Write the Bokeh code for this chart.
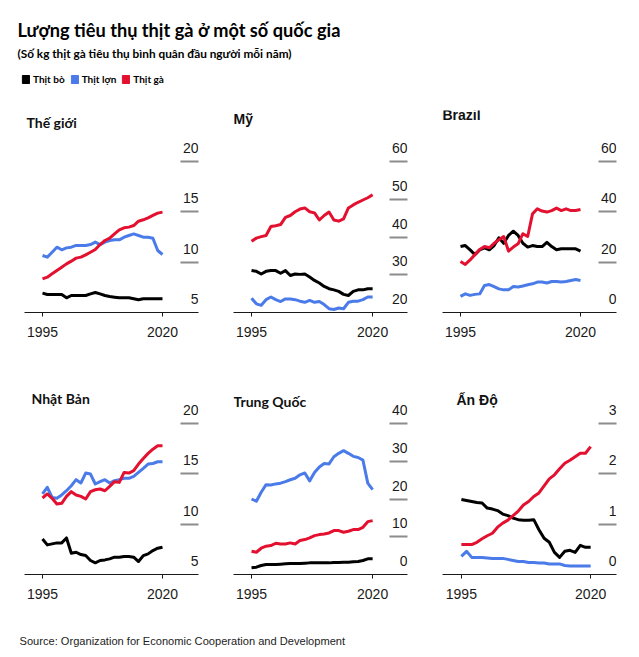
from bokeh.plotting import figure
from bokeh.layouts import column, row
from bokeh.models import Range1d, FixedTicker, Legend, LegendItem, ColumnDataSource
from bokeh.core.properties import value
from bokeh.embed import file_html
from bokeh.resources import INLINE

# ---------------- data ----------------
years = list(range(1995, 2021))
x_ticks = [1995, 2020]

title_text = "Lượng tiêu thụ thịt gà ở một số quốc gia"
subtitle_text = "(Số kg thịt gà tiêu thụ bình quân đầu người mỗi năm)"
source_text = "Source: Organization for Economic Cooperation and Development"
series_names = ["Thịt bò", "Thịt lợn", "Thịt gà"]

world_beef = [6.92, 6.79, 6.79, 6.79, 6.79, 6.46, 6.69, 6.69, 6.69, 6.69, 6.85, 6.99, 6.85,
              6.69, 6.59, 6.52, 6.46, 6.46, 6.46, 6.36, 6.26, 6.36, 6.36, 6.36, 6.36, 6.36]
world_pork = [10.66, 10.50, 10.99, 11.49, 11.23, 11.42, 11.49, 11.66, 11.66, 11.66, 11.75, 11.99, 11.75,
              11.99, 12.15, 12.22, 12.22, 12.48, 12.65, 12.81, 12.65, 12.48, 12.48, 12.38, 11.16, 10.76]
world_poultry = [8.34, 8.51, 8.84, 9.17, 9.50, 9.83, 10.10, 10.40, 10.50, 10.73, 10.99, 11.26, 11.75,
                 12.15, 12.38, 12.81, 13.21, 13.41, 13.48, 13.64, 14.07, 14.21, 14.40, 14.64, 14.87, 14.97]
world_ticks = [5, 10, 15, 20]

us_beef = [31.1, 30.9, 30.2, 30.9, 31.1, 31.1, 30.4, 31.1, 29.8, 30.2, 30.1, 30.2, 29.4,
           28.5, 27.8, 26.9, 26.3, 26.0, 25.6, 24.8, 24.5, 25.6, 26.0, 26.0, 26.3, 26.3]
us_pork = [23.8, 22.3, 21.9, 23.4, 24.1, 23.4, 22.9, 23.6, 23.6, 23.4, 23.0, 22.7, 23.2,
           22.7, 22.9, 22.1, 21.0, 20.8, 21.2, 21.0, 22.7, 23.0, 23.0, 23.4, 24.1, 24.1]
us_poultry = [38.9, 39.7, 40.1, 40.4, 42.8, 43.0, 43.3, 45.2, 45.7, 46.7, 47.4, 47.7, 46.7,
              46.4, 44.5, 45.7, 46.6, 44.5, 44.2, 44.8, 47.7, 48.5, 49.2, 49.8, 50.4, 51.2]
us_ticks = [20, 30, 40, 50, 60]

br_beef = [26.2, 26.6, 24.9, 23.0, 24.9, 25.7, 24.9, 26.6, 29.7, 27.5, 30.6, 32.3, 30.6,
           27.5, 26.0, 26.6, 26.2, 26.2, 27.9, 26.2, 24.9, 25.3, 25.3, 25.3, 25.3, 24.4]
br_pork = [6.4, 7.4, 6.8, 7.2, 7.4, 10.7, 11.1, 10.3, 9.4, 9.0, 9.0, 10.3, 10.1,
           10.5, 11.0, 11.4, 12.1, 12.1, 11.7, 12.3, 12.3, 12.1, 12.3, 12.7, 13.1, 12.7]
br_poultry = [20.3, 19.1, 20.9, 23.0, 25.0, 26.2, 25.7, 27.5, 28.9, 30.2, 24.4, 26.0, 27.3,
              31.3, 30.2, 39.2, 41.2, 40.3, 39.9, 40.5, 41.5, 40.5, 41.2, 40.5, 40.5, 40.9]
br_ticks = [0, 20, 40, 60]

jp_beef = [8.53, 7.94, 8.04, 8.14, 8.14, 8.63, 7.11, 7.21, 6.98, 6.88, 6.39, 6.16, 6.39,
           6.45, 6.55, 6.72, 6.72, 6.78, 6.78, 6.72, 6.29, 6.88, 7.05, 7.38, 7.61, 7.71]
jp_pork = [13.0, 13.66, 12.66, 12.57, 12.9, 13.32, 13.82, 14.42, 14.09, 15.08, 14.98, 13.99, 14.22,
           14.42, 14.09, 14.32, 14.42, 14.55, 14.55, 14.75, 15.14, 15.54, 15.97, 16.03, 16.2, 16.2]
jp_poultry = [12.60, 13.0, 12.57, 12.0, 12.07, 12.76, 13.23, 12.9, 12.76, 12.5, 13.23, 13.42, 13.49,
              13.32, 13.75, 14.22, 14.15, 15.14, 15.08, 15.31, 15.97, 16.53, 17.03, 17.45, 17.78, 17.78]
jp_ticks = [5, 10, 15, 20]

cn_beef = [1.76, 1.94, 2.38, 2.64, 2.64, 2.64, 2.73, 2.82, 2.9, 2.9, 2.9, 3.0, 3.08,
           3.08, 3.08, 3.08, 3.08, 3.17, 3.17, 3.26, 3.26, 3.35, 3.44, 3.7, 4.14, 4.14]
cn_pork = [20.0, 19.4, 21.8, 23.8, 23.7, 24.0, 24.2, 24.6, 25.1, 25.5, 26.4, 26.9, 24.8,
           27.0, 28.5, 29.4, 29.3, 31.2, 32.1, 32.8, 32.1, 31.3, 31.0, 30.3, 24.2, 22.5]
cn_poultry = [6.17, 5.9, 6.96, 7.49, 7.67, 8.28, 8.1, 8.1, 8.37, 8.1, 8.99, 9.25, 9.69,
              10.3, 10.57, 10.75, 11.01, 11.63, 11.63, 11.19, 11.45, 11.89, 11.89, 12.51, 14.0, 14.27]
cn_ticks = [0, 10, 20, 30, 40]

in_beef = [1.49, 1.47, 1.45, 1.43, 1.42, 1.32, 1.30, 1.27, 1.20, 1.17, 1.12, 1.09, 1.08,
           1.08, 1.09, 0.89, 0.72, 0.64, 0.44, 0.34, 0.46, 0.48, 0.44, 0.58, 0.54, 0.54]
in_pork = [0.36, 0.46, 0.34, 0.34, 0.34, 0.33, 0.32, 0.32, 0.32, 0.30, 0.28, 0.26, 0.26,
           0.24, 0.24, 0.23, 0.23, 0.21, 0.21, 0.21, 0.18, 0.17, 0.17, 0.17, 0.17, 0.17]
in_poultry = [0.595, 0.595, 0.595, 0.64, 0.71, 0.77, 0.82, 0.94, 1.02, 1.08, 1.17, 1.26, 1.38,
              1.45, 1.55, 1.62, 1.76, 1.90, 1.98, 2.10, 2.21, 2.27, 2.34, 2.41, 2.41, 2.54]
in_ticks = [0, 1, 2, 3]

# ---------------- style ----------------
BEEF_C = "#000000"
PORK_C = "#4a7be8"
POULTRY_C = "#e3102f"
TICK_C = "#8c8c8c"
TEXT_C = "#1a1a1a"
NUM_FONT = "Liberation Sans"
VN_FONT = "Lato"

FIG_H = 262
BORDER_TOP = 10
BORDER_BOTTOM = 50
FRAME_H = FIG_H - BORDER_TOP - BORDER_BOTTOM   # 202
TICK_SPAN = 151    # px between lowest and highest y tick

panels = [
    dict(name="Thế giới", font=VN_FONT, data=(world_beef, world_pork, world_poultry), ticks=world_ticks,
         xr=(1991.25, 2027.5), title_dy=11.5, title_dx=2),
    dict(name="Mỹ", font=NUM_FONT, data=(us_beef, us_pork, us_poultry), ticks=us_ticks,
         xr=(1991.28, 2027.2), title_dy=8, title_dx=0),
    dict(name="Brazil", font=NUM_FONT, data=(br_beef, br_pork, br_poultry), ticks=br_ticks,
         xr=(1991.25, 2027.5), title_dy=4, title_dx=0),
    dict(name="Nhật Bản", font=VN_FONT, data=(jp_beef, jp_pork, jp_poultry), ticks=jp_ticks,
         xr=(1991.25, 2027.5), title_dy=25.5, title_dx=7),
    dict(name="Trung Quốc", font=VN_FONT, data=(cn_beef, cn_pork, cn_poultry), ticks=cn_ticks,
         xr=(1991.28, 2027.2), title_dy=29, title_dx=0),
    dict(name="Ấn Độ", font=NUM_FONT, data=(in_beef, in_pork, in_poultry), ticks=in_ticks,
         xr=(1991.35, 2025.0), title_dy=27, title_dx=14),
]

col_geom = [  # (width, border_left, border_right)
    (219, 24, 21),
    (209, 14, 21),
    (203, 14, 15),
]
PAGE_W = sum(g[0] for g in col_geom)   # 631


def make_panel(spec, geom):
    width, bl, br = geom
    ticks = spec["ticks"]
    ymin, ymax = ticks[0], ticks[-1]
    y_end = ymin + (ymax - ymin) * FRAME_H / TICK_SPAN
    x0, x1 = spec["xr"]
    p = figure(width=width, height=FIG_H, x_range=Range1d(x0, x1), y_range=Range1d(ymin, y_end),
               output_backend="svg", toolbar_location=None, y_axis_location="right",
               title_location=None,
               min_border_left=bl, min_border_right=br, min_border_top=BORDER_TOP,
               min_border_bottom=BORDER_BOTTOM)
    p.outline_line_color = None
    p.grid.visible = False
    p.background_fill_color = "white"
    p.border_fill_color = "white"

    xa = p.xaxis[0]
    xa.ticker = FixedTicker(ticks=x_ticks)
    xa.axis_line_color = TEXT_C
    xa.axis_line_width = 1
    xa.major_tick_out = 4
    xa.major_tick_in = 0
    xa.major_tick_line_color = TEXT_C
    xa.minor_tick_line_color = None
    xa.major_label_text_font = NUM_FONT
    xa.major_label_text_font_size = "14px"
    xa.major_label_text_color = TEXT_C
    xa.major_label_standoff = 10

    ya = p.yaxis[0]
    ya.ticker = FixedTicker(ticks=ticks[1:])
    ya.axis_line_color = None
    ya.major_tick_in = 18
    ya.major_tick_out = 0
    ya.major_tick_line_color = TICK_C
    ya.major_tick_line_width = 2
    ya.minor_tick_line_color = None
    ya.major_label_text_font_size = "0px"
    ya.major_label_text_color = None
    ya.major_label_standoff = 0

    beef, pork, poultry = spec["data"]
    for vals, c in ((beef, BEEF_C), (pork, PORK_C), (poultry, POULTRY_C)):
        p.line(years, vals, line_color=c, line_width=3, line_join="round")

    # y tick labels, sitting above their tick marks
    lab = ColumnDataSource(dict(x=[x1] * len(ticks), y=ticks, t=[str(t) for t in ticks]))
    p.text(x="x", y="y", text="t", source=lab, text_align="right", text_baseline="middle",
           y_offset=-13.5, text_font=value(NUM_FONT), text_font_size="14px", text_color=TEXT_C)

    # panel title, anchored to the frame's top-left corner
    p.text(x=[x0], y=[y_end], text=[spec["name"]], text_align="left", text_baseline="middle",
           x_offset=spec["title_dx"], y_offset=spec["title_dy"], text_font=value(spec["font"]),
           text_font_style="bold", text_font_size="14px", text_color="#111111")
    return p


figs = [make_panel(spec, col_geom[i % 3]) for i, spec in enumerate(panels)]


def blank(width, height):
    f = figure(width=width, height=height, x_range=Range1d(0, width), y_range=Range1d(height, 0),
               output_backend="svg", toolbar_location=None, title_location=None,
               x_axis_location=None, y_axis_location=None,
               min_border=0, min_border_left=0, min_border_right=0,
               min_border_top=0, min_border_bottom=0)
    f.grid.visible = False
    f.outline_line_color = None
    return f


# ---------------- header ----------------
HDR_H = 100
hdr = blank(PAGE_W, HDR_H)
hdr.text(x=[17], y=[29.5], text=[title_text], text_baseline="middle", text_font=value(VN_FONT),
         text_font_style="bold", text_font_size="18.2px", text_color="#000000")
hdr.text(x=[17], y=[52.5], text=[subtitle_text], text_baseline="middle", text_font=value(VN_FONT),
         text_font_style="bold", text_font_size="11.8px", text_color="#000000")

nan = float("nan")
legend_items = []
for name, c in zip(series_names, (BEEF_C, PORK_C, POULTRY_C)):
    r = hdr.quad(left=[nan], right=[nan], top=[nan], bottom=[nan], fill_color=c, line_color=c)
    legend_items.append(LegendItem(label=name, renderers=[r]))
leg = Legend(items=legend_items, orientation="horizontal", location=(21, 15),
             glyph_width=9, glyph_height=10, label_height=12, label_standoff=3, spacing=5,
             padding=0, margin=0, border_line_color=None, background_fill_alpha=0,
             label_text_font=VN_FONT, label_text_font_style="bold", label_text_font_size="10px",
             label_text_color="#000000")
hdr.add_layout(leg)

# ---------------- footer ----------------
FTR_H = 30
ftr = blank(PAGE_W, FTR_H)
ftr.text(x=[19], y=[16.5], text=[source_text], text_baseline="middle",
         text_font=value(NUM_FONT), text_font_size="11.1px", text_color="#222222")

layout = column(hdr, row(figs[0], figs[1], figs[2]), row(figs[3], figs[4], figs[5]), ftr)

with open("out.html", "w") as f:
    f.write(file_html(layout, INLINE))
